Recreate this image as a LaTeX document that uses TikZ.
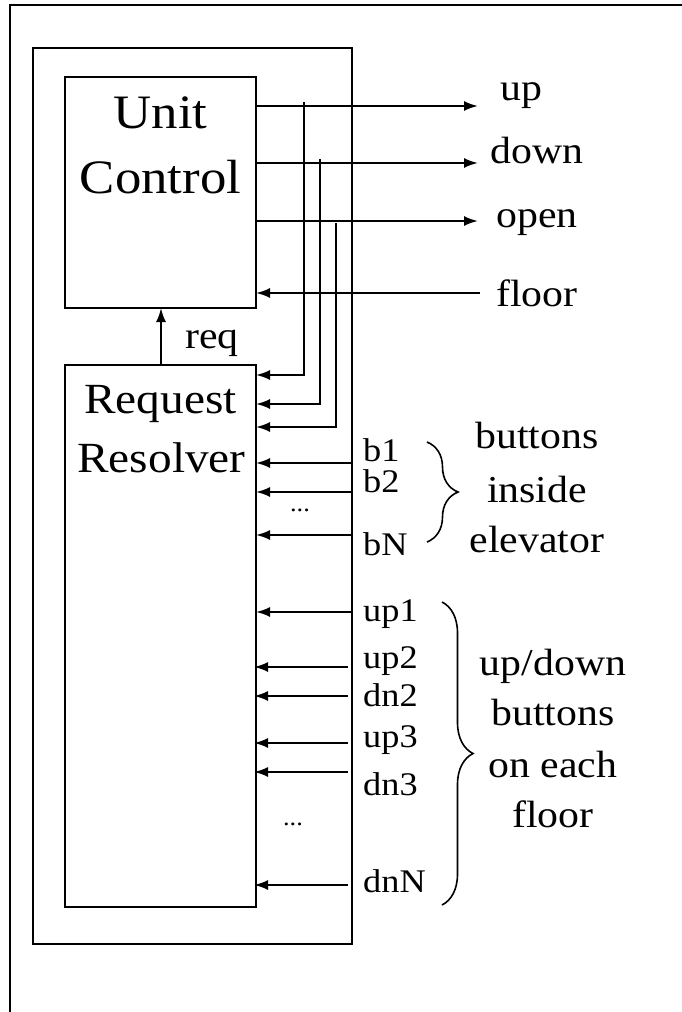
\documentclass[tikz,border=0pt]{standalone}
\usepackage{fontspec}
\setmainfont[FakeStretch=1.1]{Liberation Serif}
\usetikzlibrary{arrows.meta,decorations.pathreplacing,calc}
\begin{document}
\begin{tikzpicture}[x=1pt,y=-1pt,
  box/.style={draw, line width=2pt, inner sep=0pt, outer sep=0pt, anchor=north west},
  wire/.style={line width=2pt},
  arr/.style={wire, -{Latex[length=14pt,width=10pt]}},
  bigtxt/.style={font=\fontsize{48}{56}\selectfont, anchor=base, inner sep=0pt},
  midtxt/.style={font=\fontsize{43}{50}\selectfont, anchor=base, inner sep=0pt},
  lbl/.style={font=\fontsize{38}{44}\selectfont, anchor=base west, inner sep=0pt},
  grp/.style={font=\fontsize{38}{44}\selectfont, anchor=base, inner sep=0pt},
  sml/.style={font=\fontsize{33}{38}\selectfont, anchor=base west, inner sep=0pt},
  dots/.style={font=\fontsize{24}{28}\selectfont, anchor=base, inner sep=0pt},
  brc/.style={line width=1.6pt, decorate, decoration={brace, amplitude=31pt}}
]
\useasboundingbox (0,0) rectangle (682,1012);
% outer frame (only top and left visible)
\draw[line width=2.6pt] (10,1012) -- (10,5) -- (682,5);
% boxes
\node[box, minimum width=319pt, minimum height=896pt] (mid) at (33,48) {};
\node[box, minimum width=191pt, minimum height=231pt] (uc) at (65,77) {};
\node[box, minimum width=191pt, minimum height=542pt] (rr) at (65,365) {};
% box texts
\node[bigtxt] (uc1) at (160.5,128) {Unit};
\node[bigtxt] (uc2) at (160.5,193) {Control};
\node[midtxt] (rr1) at (160.5,413) {Request};
\node[midtxt] (rr2) at (161.5,472) {Resolver};
% req
\draw[arr] (rr.north -| 161,0) -- (uc.south -| 161,0);
\node[lbl] (req) at (185,348) {req};
% outputs
\coordinate (upA) at (478,106);
\coordinate (dnA) at (478,163);
\coordinate (opA) at (478,221);
\coordinate (flA) at (480,293);
\draw[arr] (uc.east |- upA) -- (upA);
\draw[arr] (uc.east |- dnA) -- (dnA);
\draw[arr] (uc.east |- opA) -- (opA);
\draw[arr] (flA) -- (uc.east |- flA);
\node[lbl] (upL) at (500,100) {up};
\node[lbl] (dnL) at (490,163) {down};
\node[lbl] (opL) at (496,227) {open};
\node[lbl] (flL) at (496,306) {floor};
% feedback taps
\coordinate (t1) at (304,102);
\coordinate (t1b) at (304,375);
\coordinate (t2) at (320,159);
\coordinate (t2b) at (320,404);
\coordinate (t3) at (336,223);
\coordinate (t3b) at (336,427);
\draw[arr] (t1) -- (t1b) -- (rr.east |- t1b);
\draw[arr] (t2) -- (t2b) -- (rr.east |- t2b);
\draw[arr] (t3) -- (t3b) -- (rr.east |- t3b);
% inputs from buttons
\foreach \yy in {463,492,535,612} {
  \draw[arr] (mid.east |- 0,\yy) -- (rr.east |- 0,\yy);
}
\foreach \yy in {667,696,743,772,885} {
  \draw[arr] ([xshift=-4pt]mid.east |- 0,\yy) -- ([xshift=-2pt]rr.east |- 0,\yy);
}
\node[sml] (b1) at (363,461) {b1};
\node[sml] (b2) at (363,492) {b2};
\node[dots] (d1) at (300,511) {...};
\node[sml] (bN) at (363,555) {bN};
\node[sml] (up1) at (363,621) {up1};
\node[sml] (up2) at (363,668) {up2};
\node[sml] (dn2) at (363,706) {dn2};
\node[sml] (up3) at (363,747) {up3};
\node[sml] (dn3) at (363,795) {dn3};
\node[dots] (d2) at (293,825) {...};
\node[sml] (dnN) at (363,892) {dnN};
% braces
\coordinate (br1a) at (427,442);
\coordinate (br1b) at (427,542);
\coordinate (br2a) at (442,602);
\coordinate (br2b) at (442,905);
\draw[brc] (br1a) -- (br1b);
\draw[brc] (br2a) -- (br2b);
\node[grp] (g1a) at (537,448) {buttons};
\node[grp] (g1b) at (537,502) {inside};
\node[grp] (g1c) at (537,552) {elevator};
\node[grp] (g2a) at (553,675) {up/down};
\node[grp] (g2b) at (553,725) {buttons};
\node[grp] (g2c) at (553,777) {on each};
\node[grp] (g2d) at (553,827) {floor};
\end{tikzpicture}
\end{document}
